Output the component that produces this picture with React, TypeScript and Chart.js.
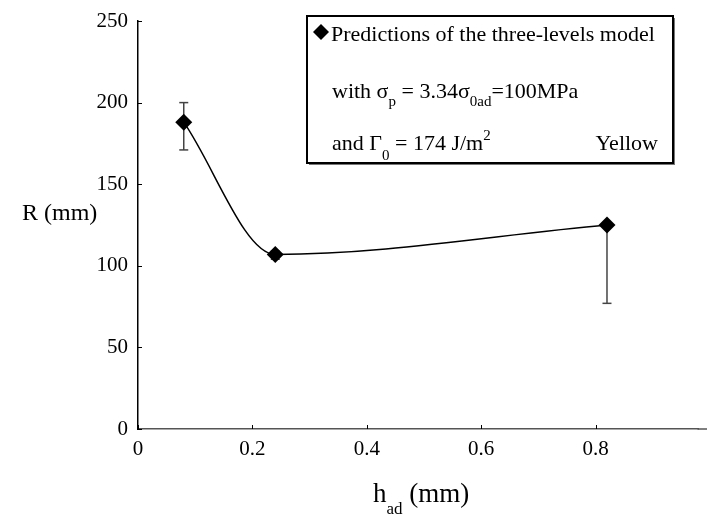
import React, { useEffect, useRef } from "react";
import { Chart, registerables } from "chart.js";

Chart.register(...registerables);

const FONT = "'Liberation Serif','Times New Roman',Times,serif";

// data
const hAd = [0.08, 0.24, 0.82];
const rValues = [188, 107, 125];
const errLow = [171, 104, 77];
const errHigh = [200, 109, 125];
const xTicks = [0, 0.2, 0.4, 0.6, 0.8];
const yTicks = [0, 50, 100, 150, 200, 250];

type Run = [string, "n" | "sub" | "sup"];

function drawRich(
  ctx: CanvasRenderingContext2D,
  x: number,
  y: number,
  parts: Run[],
  size: number,
  subSize: number,
  subOff: number,
  supOff: number
) {
  let cx = x;
  for (const [t, k] of parts) {
    const fs = k === "n" ? size : subSize;
    ctx.font = `${fs}px ${FONT}`;
    const dy = k === "sub" ? subOff : k === "sup" ? -supOff : 0;
    ctx.fillText(t, cx, y + dy);
    cx += ctx.measureText(t).width;
  }
  return cx;
}

function diamond(ctx: CanvasRenderingContext2D, x: number, y: number, r: number) {
  ctx.beginPath();
  ctx.moveTo(x, y - r);
  ctx.lineTo(x + r, y);
  ctx.lineTo(x, y + r);
  ctx.lineTo(x - r, y);
  ctx.closePath();
  ctx.fill();
}

const extrasPlugin = {
  id: "extras",
  beforeDatasetsDraw(chart: any) {
    const ctx = chart.ctx as CanvasRenderingContext2D;
    const xs = chart.scales.x;
    const ys = chart.scales.y;
    const ca = chart.chartArea;
    ctx.save();
    // extend x axis line to the canvas edge
    ctx.strokeStyle = "#555";
    ctx.lineWidth = 1.5;
    ctx.beginPath();
    ctx.moveTo(ca.right - 1, ca.bottom);
    ctx.lineTo(chart.width, ca.bottom);
    ctx.stroke();
    // inward ticks
    ctx.strokeStyle = "#000";
    ctx.lineWidth = 1;
    xTicks.forEach((v) => {
      const px = Math.round(xs.getPixelForValue(v)) + 0.5;
      ctx.beginPath();
      ctx.moveTo(px, ca.bottom);
      ctx.lineTo(px, ca.bottom - 4);
      ctx.stroke();
    });
    yTicks.forEach((v) => {
      const py = Math.round(ys.getPixelForValue(v)) + 0.5;
      ctx.beginPath();
      ctx.moveTo(ca.left, py);
      ctx.lineTo(ca.left + 4, py);
      ctx.stroke();
    });
    // error bars
    ctx.strokeStyle = "#444";
    ctx.lineWidth = 1.5;
    hAd.forEach((xv, i) => {
      const px = xs.getPixelForValue(xv);
      const pLo = ys.getPixelForValue(errLow[i]);
      const pHi = ys.getPixelForValue(errHigh[i]);
      ctx.beginPath();
      ctx.moveTo(px, pLo);
      ctx.lineTo(px, pHi);
      ctx.stroke();
      const caps: number[] = [];
      if (errLow[i] < rValues[i]) caps.push(pLo);
      if (errHigh[i] > rValues[i]) caps.push(pHi);
      caps.forEach((py) => {
        ctx.beginPath();
        ctx.moveTo(px - 4.5, py);
        ctx.lineTo(px + 4.5, py);
        ctx.stroke();
      });
    });
    ctx.restore();
  },
  afterDraw(chart: any) {
    const ctx = chart.ctx as CanvasRenderingContext2D;
    ctx.save();
    ctx.fillStyle = "#000";
    ctx.textBaseline = "alphabetic";
    ctx.textAlign = "left";
    // axis titles
    ctx.font = `24px ${FONT}`;
    ctx.fillText("R (mm)", 22, 220);
    drawRich(ctx, 373, 502, [["h", "n"], ["ad", "sub"], [" (mm)", "n"]], 27, 17, 12, 0);

    // legend box
    const lx = 307, ly = 16, lw = 366, lh = 147;
    ctx.fillStyle = "#777";
    ctx.fillRect(lx + 2, ly + 2, lw, lh);
    ctx.fillStyle = "#fff";
    ctx.fillRect(lx, ly, lw, lh);
    ctx.strokeStyle = "#000";
    ctx.lineWidth = 2;
    ctx.strokeRect(lx, ly, lw, lh);
    ctx.fillStyle = "#000";
    diamond(ctx, 321, 32, 8);
    ctx.font = `22px ${FONT}`;
    ctx.fillText("Predictions of the three-levels model", 331, 41);
    drawRich(
      ctx,
      332,
      98,
      [["with σ", "n"], ["p", "sub"], [" = 3.34σ", "n"], ["0ad", "sub"], ["=100MPa", "n"]],
      22,
      15,
      8,
      0
    );
    drawRich(
      ctx,
      332,
      150,
      [["and Γ", "n"], ["0", "sub"], [" = 174 J/m", "n"], ["2", "sup"]],
      22,
      15,
      10,
      10
    );
    ctx.font = `22px ${FONT}`;
    ctx.textAlign = "right";
    ctx.fillText("Yellow", 658, 150);
    ctx.restore();
  },
};

export default function App() {
  const ref = useRef<HTMLCanvasElement>(null);
  useEffect(() => {
    const prevMargin = document.body.style.margin;
    document.body.style.margin = "0";
    const chart = new Chart(ref.current as HTMLCanvasElement, {
      type: "line",
      data: {
        datasets: [
          {
            data: hAd.map((x, i) => ({ x, y: rValues[i] })),
            borderColor: "#000",
            backgroundColor: "#000",
            borderWidth: 1.5,
            pointStyle: "rectRot",
            pointRadius: 8.5,
            pointHoverRadius: 8.5,
            pointBackgroundColor: "#000",
            pointBorderColor: "#000",
            pointBorderWidth: 0,
            cubicInterpolationMode: "monotone",
            fill: false,
          },
        ],
      },
      options: {
        responsive: false,
        animation: false,
        events: [],
        layout: { padding: { left: 0, right: 0, top: 21, bottom: 0 } },
        plugins: { legend: { display: false }, tooltip: { enabled: false } },
        scales: {
          x: {
            type: "linear",
            min: 0,
            max: 0.98,
            grid: { display: false, drawTicks: false },
            border: { display: true, color: "#555", width: 1.5 },
            ticks: {
              color: "#000",
              font: { family: FONT, size: 21 },
              padding: 8,
              maxRotation: 0,
              callback: (v: any) => String(v),
            },
            afterBuildTicks: (scale: any) => {
              scale.ticks = xTicks.map((v) => ({ value: v }));
            },
            afterFit: (scale: any) => {
              scale.height = 87;
              scale.paddingLeft = 0;
              scale.paddingRight = 0;
            },
          },
          y: {
            type: "linear",
            min: 0,
            max: 250,
            grid: { display: false, drawTicks: false },
            border: { display: true, color: "#000", width: 1.5 },
            ticks: {
              color: "#000",
              font: { family: FONT, size: 21 },
              padding: 10,
              stepSize: 50,
            },
            afterBuildTicks: (scale: any) => {
              scale.ticks = yTicks.map((v) => ({ value: v }));
            },
            afterFit: (scale: any) => {
              scale.width = 138;
              scale.paddingTop = 0;
              scale.paddingBottom = 0;
            },
          },
        },
      },
      plugins: [extrasPlugin],
    });
    return () => {
      chart.destroy();
      document.body.style.margin = prevMargin;
    };
  }, []);
  return (
    <div style={{ position: "absolute", left: 0, top: 0, width: 707, height: 516 }}>
      <canvas ref={ref} width={707} height={516} style={{ display: "block" }} />
    </div>
  );
}
